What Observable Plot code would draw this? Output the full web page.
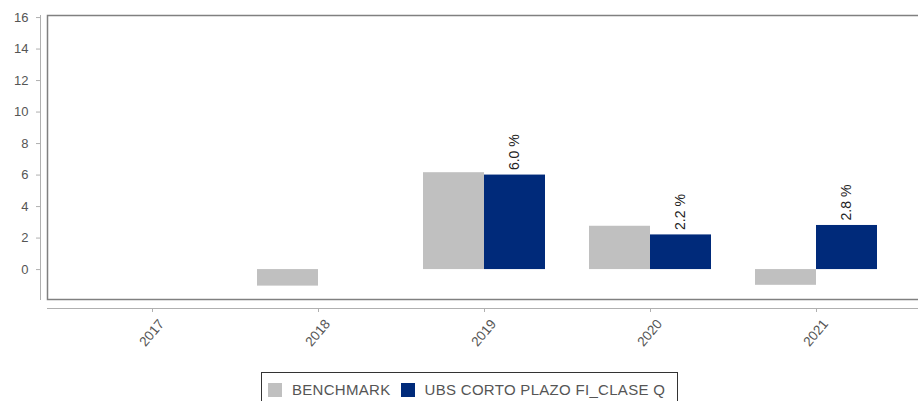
<!DOCTYPE html>
<html>
<head>
<meta charset="utf-8">
<script src="https://cdn.jsdelivr.net/npm/d3@7"></script>
<script src="https://cdn.jsdelivr.net/npm/@observablehq/plot@0.6"></script>
<style>
  html, body { margin: 0; padding: 0; background: #fff; }
  #wrap { position: relative; width: 918px; height: 401px; overflow: hidden; font-family: "Liberation Sans", Arial, sans-serif; }
  #wrap svg { display: block; }
  .legend { position: absolute; left: 261px; top: 372px; width: 417px; height: 36px; box-sizing: border-box;
            border: 1.5px solid #333; background: #fff; display: flex; align-items: flex-start; padding: 10px 0 0 6px;
            white-space: nowrap; overflow: hidden; }
  .legend .item { display: flex; align-items: center; margin-right: 10px; flex: none; }
  .legend .sw { width: 14px; height: 14px; margin-right: 10px; flex: none; }
  .legend .lb { font-size: 15px; color: #555; line-height: 14px; white-space: nowrap; letter-spacing: 0.3px; }
</style>
</head>
<body>
<div id="wrap"></div>
<script>
const years = ["2017", "2018", "2019", "2020", "2021"];
const benchmark = [null, -1.05, 6.15, 2.75, -1.0];
const fund = [null, null, 6.0, 2.2, 2.8];
const seriesNames = ["BENCHMARK", "UBS CORTO PLAZO FI_CLASE Q"];
const seriesColors = ["#c0c0c0", "#002a7a"];
const yTicks = [0, 2, 4, 6, 8, 10, 12, 14, 16];

const rows = years.map((year, i) => ({year, benchmark: benchmark[i], fund: fund[i]}));

const chart = Plot.plot({
  width: 918,
  height: 370,
  marginLeft: 47,
  marginRight: -3,
  marginTop: 15,
  marginBottom: 71,
  style: {fontFamily: "'Liberation Sans', Arial, sans-serif", fontSize: "13px", color: "#555", background: "#fff"},
  x: {type: "band", domain: years, paddingInner: 0.267, paddingOuter: 0.258, axis: null},
  y: {domain: [-1.9, 16.13], axis: null},
  marks: [
    Plot.barY(rows.filter(d => d.benchmark != null), {x: "year", y: "benchmark", fill: seriesColors[0], insetRight: 61}),
    Plot.barY(rows.filter(d => d.fund != null), {x: "year", y: "fund", fill: seriesColors[1], insetLeft: 61}),
    Plot.text(rows.filter(d => d.fund != null), {
      x: "year", y: "fund", text: d => d.fund.toFixed(1) + " %",
      rotate: -90, textAnchor: "start", dx: 30.5, dy: -5, fill: "#222", fontSize: 14
    }),
    Plot.frame({stroke: "#808080", strokeWidth: 1.5}),
    Plot.frame({anchor: "left", dx: -7, stroke: "#b0b0b0"}),
    Plot.frame({anchor: "bottom", dy: 9, stroke: "#b0b0b0"}),
    Plot.axisY({ticks: yTicks, tickFormat: d => d, dx: -7, tickSize: 4, tickPadding: 8, stroke: "#b0b0b0", fill: "#555", label: null}),
    Plot.axisX({dy: 9, tickSize: 4, stroke: "#b0b0b0", fill: "none", label: null}),
    Plot.axisX({dy: 9, dx: 9, tickSize: 0, tickPadding: 13, tickRotate: -50, fontSize: 13.5, stroke: "none", fill: "#555", label: null})
  ]
});
document.getElementById("wrap").appendChild(chart);

const legend = document.createElement("div");
legend.className = "legend";
seriesNames.forEach((name, i) => {
  const item = document.createElement("div");
  item.className = "item";
  const sw = document.createElement("div");
  sw.className = "sw";
  sw.style.background = seriesColors[i];
  const lb = document.createElement("span");
  lb.className = "lb";
  lb.textContent = name;
  item.appendChild(sw);
  item.appendChild(lb);
  legend.appendChild(item);
});
document.getElementById("wrap").appendChild(legend);
</script>
</body>
</html>
